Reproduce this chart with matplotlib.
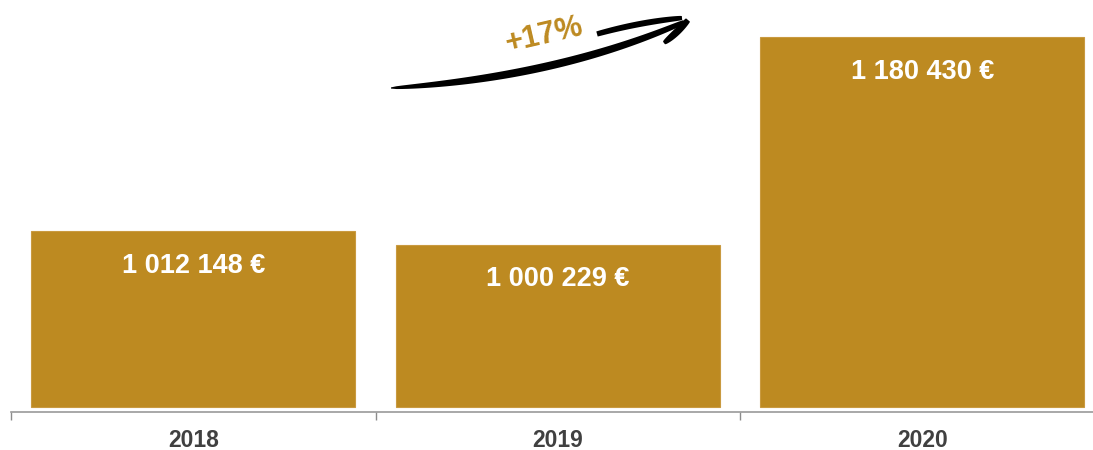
import numpy as np
import matplotlib
matplotlib.use("Agg")
import matplotlib.pyplot as plt
from matplotlib.patches import Polygon

# data
years = ["2018", "2019", "2020"]
amounts = [1012148, 1000229, 1180430]
labels = ["1 012 148 €", "1 000 229 €", "1 180 430 €"]
growth_label = "+17%"

GOLD = "#BD8A21"
W, H = 1093, 450

plt.rcParams["font.family"] = ["Liberation Sans", "DejaVu Sans"]

fig = plt.figure(figsize=(W / 100, H / 100), dpi=100)
# axes spans 11px .. 1104px horizontally (right side cropped like the original)
ax = fig.add_axes([11 / W, 38 / H, 1093.5 / W, 412 / H])

base = 859500
x = np.arange(len(years))
heights = [a - base for a in amounts]
bars = ax.bar(x, heights, bottom=base, width=0.89, color=GOLD, edgecolor="#C99A40",
              linewidth=0.8)

for xi, a, lab in zip(x, amounts, labels):
    ax.annotate(lab, (xi, a), xytext=(0, -25), textcoords="offset points",
                ha="center", va="center", color="white", fontsize=19.5, fontweight="bold")

ax.set_xlim(-0.5, 2.5)
ax.set_ylim(855200, 1212500)
ax.set_xticks(x)
ax.set_xticklabels(years, fontsize=16.5, fontweight="bold", color="#404040")
ax.tick_params(axis="x", which="major", length=0, pad=12)
ax.set_xticks([-0.5, 0.5, 1.5], minor=True)
ax.tick_params(axis="x", which="minor", length=6, color="#8C8C8C", width=1)
ax.set_yticks([])
for s in ["top", "right", "left"]:
    ax.spines[s].set_visible(False)
ax.spines["bottom"].set_color("#9A9A9A")
ax.spines["bottom"].set_linewidth(1.2)


# hand drawn looking arrow, in pixel coords of the image
def px(pts):
    pts = np.asarray(pts, dtype=float)
    return np.column_stack([pts[:, 0] / W, 1 - pts[:, 1] / H])


def stroke(p0, p1, p2, wmax, wstart=0.5, wend=0.5, n=60):
    t = np.linspace(0, 1, n)[:, None]
    p0, p1, p2 = map(np.array, (p0, p1, p2))
    pts = (1 - t) ** 2 * p0 + 2 * (1 - t) * t * p1 + t ** 2 * p2
    d = 2 * (1 - t) * (p1 - p0) + 2 * t * (p2 - p1)
    nrm = np.column_stack([-d[:, 1], d[:, 0]])
    nrm /= np.linalg.norm(nrm, axis=1)[:, None]
    tt = t[:, 0]
    edge = wstart * (1 - tt) + wend * tt
    w = edge + (wmax - edge) * np.sin(np.pi * tt) ** 0.5
    up = pts + nrm * w[:, None]
    dn = pts - nrm * w[:, None]
    poly = np.vstack([up, dn[::-1]])
    fig.patches.append(Polygon(px(poly), closed=True, transform=fig.transFigure,
                               facecolor="black", edgecolor="none", zorder=5))


stroke((391, 88), (555, 78), (684, 22), 4.0, 0.6, 2.0)
stroke((597, 34), (640, 22), (682, 18), 3.0, 2.6, 2.0)
stroke((688, 20), (678, 32), (664, 43), 3.6, 2.5, 1.5)

fig.text(544 / W, 1 - 35 / H, growth_label, color=GOLD, fontsize=22, fontweight="bold",
         rotation=13, ha="center", va="center", rotation_mode="anchor")

fig.savefig("out.png", dpi=100)
